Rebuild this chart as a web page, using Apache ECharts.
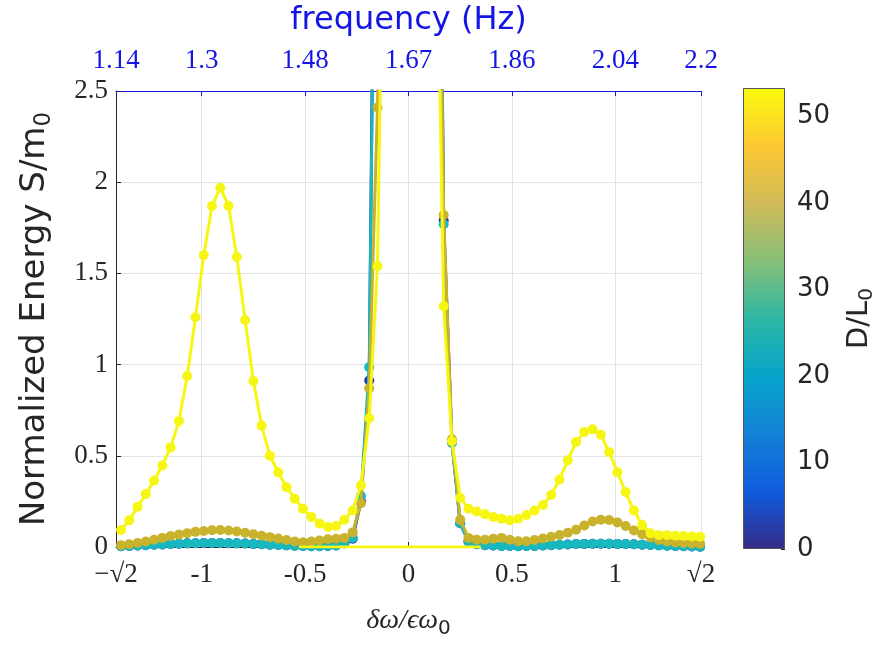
<!DOCTYPE html>
<html><head><meta charset="utf-8">
<script src="https://cdn.jsdelivr.net/npm/echarts@6/dist/echarts.min.js"></script>
<style>html,body{margin:0;padding:0;background:#fff}#c{width:884px;height:652px}</style>
</head><body><div id="c"></div>
<script>
// ---- data ----
const xVals = [-1.39,-1.35,-1.31,-1.27,-1.23,-1.19,-1.15,-1.11,-1.07,-1.03,-0.99,-0.95,-0.91,-0.87,-0.83,-0.79,-0.75,-0.71,-0.67,-0.63,-0.59,-0.55,-0.51,-0.47,-0.43,-0.39,-0.35,-0.31,-0.27,-0.23,-0.19,-0.15,-0.11,-0.07,-0.03,0.01,0.05,0.09,0.13,0.17,0.21,0.25,0.29,0.33,0.37,0.41,0.45,0.49,0.53,0.57,0.61,0.65,0.69,0.73,0.77,0.81,0.85,0.89,0.93,0.97,1.01,1.05,1.09,1.13,1.17,1.21,1.25,1.29,1.33,1.37,1.41];
const energyD0 = [0.004,0.006,0.008,0.01,0.012,0.014,0.016,0.018,0.02,0.021,0.022,0.022,0.022,0.021,0.02,0.019,0.017,0.015,0.013,0.011,0.009,0.007,0.005,0.004,0.004,0.005,0.008,0.02,0.045,0.25,0.913,5.5,10,15,20,22,18,12,6.5,1.79,0.58,0.13,0.03,0.015,0.01,0.008,0.006,0.005,0.004,0.005,0.006,0.008,0.01,0.012,0.014,0.016,0.017,0.018,0.018,0.018,0.017,0.016,0.015,0.013,0.011,0.009,0.007,0.005,0.004,0.003,0.002];
const energyD25 = [0.004,0.006,0.008,0.01,0.012,0.014,0.016,0.018,0.02,0.021,0.022,0.022,0.022,0.021,0.02,0.019,0.017,0.015,0.013,0.011,0.009,0.007,0.005,0.004,0.004,0.005,0.008,0.02,0.05,0.28,0.986,5,9,14,19,21,17,11,6,1.77,0.57,0.13,0.03,0.015,0.01,0.008,0.006,0.005,0.004,0.005,0.006,0.008,0.01,0.012,0.014,0.016,0.017,0.018,0.018,0.018,0.017,0.016,0.015,0.013,0.011,0.009,0.007,0.005,0.004,0.003,0.002];
const energyD40 = [0.01,0.015,0.022,0.03,0.04,0.05,0.06,0.068,0.076,0.083,0.088,0.092,0.093,0.09,0.085,0.078,0.07,0.062,0.054,0.046,0.038,0.03,0.026,0.03,0.036,0.042,0.045,0.05,0.08,0.24,0.87,2.41,6,12,18,20,16,10,5,1.82,0.59,0.15,0.05,0.04,0.04,0.045,0.05,0.04,0.032,0.032,0.038,0.047,0.056,0.066,0.078,0.095,0.118,0.14,0.15,0.148,0.135,0.115,0.09,0.07,0.052,0.038,0.03,0.025,0.022,0.02,0.018];
const energyD53 = [0.093,0.147,0.22,0.29,0.365,0.447,0.546,0.69,0.937,1.26,1.6,1.87,1.97,1.87,1.59,1.245,0.91,0.665,0.5,0.41,0.328,0.265,0.21,0.165,0.129,0.11,0.115,0.15,0.2,0.338,0.706,1.54,4.5,9,14,16,13,8,4,1.32,0.58,0.27,0.21,0.195,0.18,0.165,0.155,0.147,0.155,0.175,0.2,0.23,0.285,0.37,0.475,0.575,0.63,0.645,0.615,0.52,0.41,0.3,0.2,0.12,0.075,0.065,0.065,0.062,0.06,0.058,0.056];
const zeroLineX = [-0.53, 0.35];
const zeroLineY = [0, 0];
const bottomTickValues = [-1.41421356, -1, -0.5, 0, 0.5, 1, 1.41421356];
const bottomTickLabels = ['\u2212\u221A2', '-1', '-0.5', '0', '0.5', '1', '\u221A2'];
const topTickLabels = ['1.14', '1.3', '1.48', '1.67', '1.86', '2.04', '2.2'];
const colorLimits = [0, 53.3];
const colorTicks = [0, 10, 20, 30, 40, 50];
const parulaStops = ['#352a87', '#0f5cdd', '#1481d6', '#06a4ca', '#2eb7a4', '#87bf77', '#d1bb59', '#fec832', '#f9fb0e'];
const seriesColors = ['#3b2aa3', '#17b8c0', '#c9b22c', '#f6f612'];

// ---- chart ----
const chart = echarts.init(document.getElementById('c'), null, {renderer: 'canvas'});
const pairs = arr => xVals.map((x, i) => [x, arr[i]]);
const nearestLabel = labels => v => {
  let best = 0;
  bottomTickValues.forEach((t, i) => { if (Math.abs(t - v) < Math.abs(bottomTickValues[best] - v)) best = i; });
  return labels[best];
};
const dark = '#262626';
const blue = '#1414e6';
const serif = 'Liberation Serif';
const sans = 'DejaVu Sans';
const XMIN = -1.41421356, XMAX = 1.41421356;

const lineSeries = (name, arr, color, z) => ({
  name, type: 'line', xAxisIndex: 0, yAxisIndex: 0, data: pairs(arr),
  symbol: 'circle', symbolSize: 10, showSymbol: true, clip: true, z,
  lineStyle: {color, width: 3}, itemStyle: {color}, animation: false
});

const gradStops = parulaStops.map((c, i) => ({offset: 1 - i / (parulaStops.length - 1), color: c}));

chart.setOption({
  animation: false,
  grid: [
    {left: 116, right: 183, top: 88, bottom: 105, containLabel: false},
    {left: 743, width: 42, top: 88, height: 461}
  ],
  xAxis: [
    {type: 'value', gridIndex: 0, min: XMIN, max: XMAX, position: 'bottom',
     name: '{a|\u03B4\u03C9/\u03F5\u03C9}{b|0}', nameLocation: 'middle', nameGap: 56,
     nameTextStyle: {rich: {a: {fontFamily: serif, fontStyle: 'italic', fontSize: 28, color: dark}, b: {fontFamily: sans, fontSize: 20, color: dark, padding: [16, 0, 0, 0]}}},
     axisLine: {show: true, onZero: false, lineStyle: {color: dark, width: 1}},
     axisTick: {show: true, inside: true, length: 5, customValues: bottomTickValues, lineStyle: {color: dark}},
     axisLabel: {customValues: bottomTickValues, formatter: nearestLabel(bottomTickLabels), fontFamily: serif, fontSize: 27, color: dark, margin: 14},
     splitLine: {show: true, lineStyle: {color: '#e3e3e3', width: 1}}},
    {type: 'value', gridIndex: 0, min: XMIN, max: XMAX, position: 'top',
     name: 'frequency (Hz)', nameLocation: 'middle', nameGap: 54,
     nameTextStyle: {fontFamily: sans, fontSize: 32, color: blue},
     axisLine: {show: true, onZero: false, lineStyle: {color: blue, width: 1}},
     axisTick: {show: true, inside: true, length: 5, customValues: bottomTickValues, lineStyle: {color: blue}},
     axisLabel: {customValues: bottomTickValues, formatter: nearestLabel(topTickLabels), fontFamily: serif, fontSize: 27, color: blue, margin: 17},
     splitLine: {show: false}},
    {type: 'category', gridIndex: 1, data: ['c'], show: false}
  ],
  yAxis: [
    {type: 'value', gridIndex: 0, min: 0, max: 2.5, interval: 0.5,
     name: '{a|Normalized Energy S/m}{b|0}', nameLocation: 'middle', nameGap: 60, nameRotate: 90,
     nameTextStyle: {rich: {a: {fontFamily: sans, fontSize: 34, color: dark}, b: {fontFamily: sans, fontSize: 23, color: dark, padding: [19, 0, 0, 0]}}},
     axisLine: {show: true, onZero: false, lineStyle: {color: dark, width: 1}},
     axisTick: {show: true, inside: true, length: 5, lineStyle: {color: dark}},
     axisLabel: {fontFamily: serif, fontSize: 27, color: dark, margin: 8},
     splitLine: {show: true, lineStyle: {color: '#e3e3e3', width: 1}}},
    {type: 'value', gridIndex: 1, min: colorLimits[0], max: colorLimits[1], position: 'right',
     name: '{a|D/L}{b|0}', nameLocation: 'middle', nameGap: 56, nameRotate: 90,
     nameTextStyle: {rich: {a: {fontFamily: sans, fontSize: 29, color: dark}, b: {fontFamily: sans, fontSize: 20, color: dark, padding: [16, 0, 0, 0]}}},
     axisLine: {show: false, onZero: false},
     axisTick: {show: true, inside: true, length: 4, customValues: colorTicks, lineStyle: {color: dark}},
     axisLabel: {customValues: colorTicks, fontFamily: sans, fontSize: 26, color: dark, margin: 12},
     splitLine: {show: false}}
  ],
  series: [
    lineSeries('D0', energyD0, seriesColors[0], 2),
    lineSeries('D25', energyD25, seriesColors[1], 3),
    lineSeries('D40', energyD40, seriesColors[2], 4),
    lineSeries('D53', energyD53, seriesColors[3], 5),
    {type: 'line', xAxisIndex: 0, yAxisIndex: 0, data: zeroLineX.map((x, i) => [x, zeroLineY[i]]),
     symbol: 'none', lineStyle: {color: seriesColors[3], width: 3}, z: 6},
    {type: 'bar', xAxisIndex: 2, yAxisIndex: 1, data: [colorLimits[1]], barWidth: '100%',
     itemStyle: {color: new echarts.graphic.LinearGradient(0, 0, 0, 1, gradStops), borderColor: '#555', borderWidth: 1}}
  ]
});
</script></body></html>
